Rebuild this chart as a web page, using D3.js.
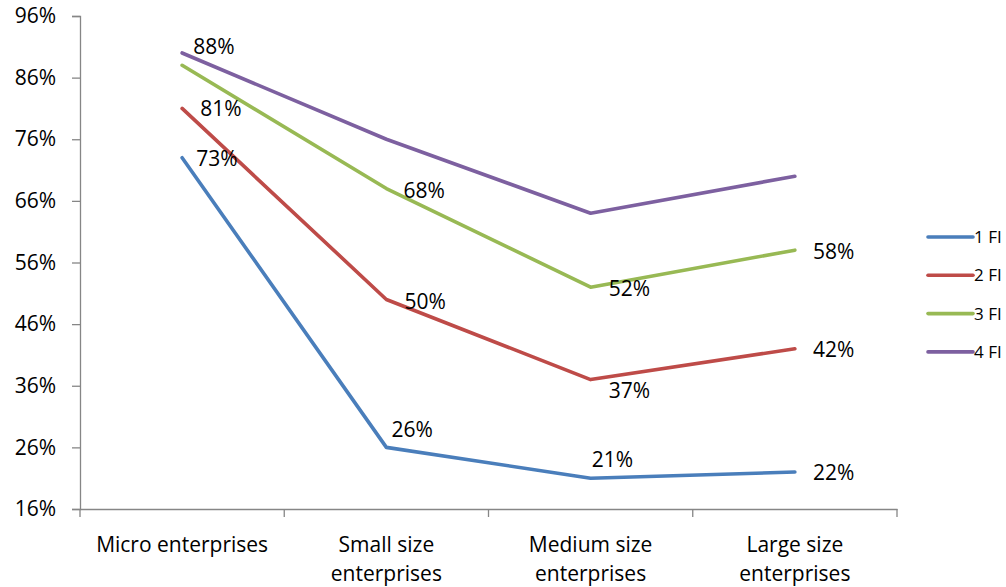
<!DOCTYPE html>
<html>
<head>
<meta charset="utf-8">
<script src="https://cdn.jsdelivr.net/npm/d3@7"></script>
<style>
  html, body { margin: 0; padding: 0; background: #fff; }
  svg text { font-family: "Open Sans", "Liberation Sans", sans-serif; fill: #000; }
</style>
</head>
<body>
<svg id="chart" width="1006" height="587"></svg>
<script>
// Share of enterprises by size class and number of financial institutions used
const categories = ["Micro enterprises", "Small size enterprises", "Medium size enterprises", "Large size enterprises"];
const categoryLines = [["Micro enterprises"], ["Small size", "enterprises"], ["Medium size", "enterprises"], ["Large size", "enterprises"]];
const seriesNames = ["1 FI", "2 FI", "3 FI", "4 FI"];
const fi1 = [73, 26, 21, 22];
const fi2 = [81, 50, 37, 42];
const fi3 = [88, 68, 52, 58];
const fi4 = [90, 76, 64, 70];
const yTicks = [16, 26, 36, 46, 56, 66, 76, 86, 96];
const labelled = [true, true, true, false];

const seriesValues = [fi1, fi2, fi3, fi4];
const colors = ["#4a7ebb", "#be4b48", "#98b954", "#7d60a0"];

// label offsets (dx, dy) relative to each point, per series and category
const labelOffsets = [
  [[14, 1], [5, -18], [1, -19], [18, 1]],
  [[18, 0], [18, 2], [18, 11], [18, 1]],
  [[11, -19], [17, 2], [18, 1], [18, 1]],
  [[0, 0], [0, 0], [0, 0], [0, 0]]
];

const fontSize = 21;
const svg = d3.select("#chart");
const plotLeft = 80, plotRight = 897, plotTop = 16, plotBottom = 509;

const x = d3.scaleBand().domain(categories).range([plotLeft, plotRight]);
const y = d3.scaleLinear().domain([16, 96]).range([plotBottom, plotTop]);

const axisColor = "#868686";

// y axis
const yAxis = svg.append("g")
  .attr("transform", `translate(${plotLeft},0)`)
  .call(d3.axisLeft(y).tickValues(yTicks).tickSize(8).tickPadding(16).tickFormat(d => d + "%"));
yAxis.select(".domain").attr("stroke", axisColor).attr("stroke-width", 1.3);
yAxis.selectAll(".tick line").attr("stroke", axisColor).attr("stroke-width", 1.3);
yAxis.selectAll(".tick text")
  .attr("font-size", fontSize)
  .attr("font-family", "Open Sans, Liberation Sans, sans-serif")
  .attr("fill", "#000");

// x axis
const xAxis = svg.append("g")
  .attr("transform", `translate(0,${plotBottom})`)
  .call(d3.axisBottom(x).tickSize(0).tickFormat(""));
xAxis.select(".domain").attr("stroke", axisColor).attr("stroke-width", 1.3);
const boundaries = categories.map(c => x(c)).concat([plotRight]);
xAxis.selectAll(".bound").data(boundaries).enter().append("line")
  .attr("x1", d => d).attr("x2", d => d)
  .attr("y1", 0).attr("y2", 8)
  .attr("stroke", axisColor).attr("stroke-width", 1.3);

const catLabels = svg.append("g");
categories.forEach((c, i) => {
  const t = catLabels.append("text")
    .attr("x", x(c) + x.bandwidth() / 2)
    .attr("y", plotBottom + 43)
    .attr("text-anchor", "middle")
    .attr("font-size", fontSize);
  categoryLines[i].forEach((ln, j) => {
    t.append("tspan")
      .attr("x", x(c) + x.bandwidth() / 2)
      .attr("dy", j === 0 ? 0 : 29)
      .text(ln);
  });
});

// lines
const line = d3.line()
  .x((d, i) => x(categories[i]) + x.bandwidth() / 2)
  .y(d => y(d));

seriesValues.forEach((vals, s) => {
  svg.append("path")
    .datum(vals)
    .attr("fill", "none")
    .attr("stroke", colors[s])
    .attr("stroke-width", 3.6)
    .attr("stroke-linejoin", "round")
    .attr("stroke-linecap", "round")
    .attr("d", line);
});

// data labels
seriesValues.forEach((vals, s) => {
  if (!labelled[s]) return;
  vals.forEach((v, i) => {
    const [dx, dy] = labelOffsets[s][i];
    svg.append("text")
      .attr("x", x(categories[i]) + x.bandwidth() / 2 + dx)
      .attr("y", y(v) + dy)
      .attr("dy", "0.35em")
      .attr("font-size", fontSize)
      .text(v + "%");
  });
});

// legend
const legend = svg.append("g").attr("transform", "translate(928,237)");
seriesNames.forEach((n, i) => {
  const g = legend.append("g").attr("transform", `translate(0,${i * 38.3})`);
  g.append("line")
    .attr("x1", 0).attr("x2", 45)
    .attr("stroke", colors[i]).attr("stroke-width", 3.6)
    .attr("stroke-linecap", "round");
  g.append("text")
    .attr("x", 46).attr("y", 0).attr("dy", "0.35em")
    .attr("font-size", 17)
    .text(n);
});
</script>
</body>
</html>
